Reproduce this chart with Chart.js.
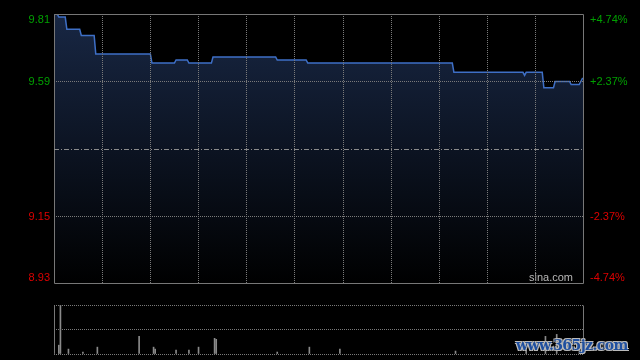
<!DOCTYPE html>
<html>
<head>
<meta charset="utf-8">
<script src="https://cdn.jsdelivr.net/npm/chart.js"></script>
<style>
  html, body { margin: 0; padding: 0; background: #000; }
  #wrap { position: relative; width: 640px; height: 360px; overflow: hidden; }
  #price-box { position: absolute; left: 0; top: 0; width: 640px; height: 290px; }
  #vol-box { position: absolute; left: 0; top: 290px; width: 640px; height: 70px; }
  #mark {
    position: absolute; left: 516px; top: 337px;
    font: bold 14px "DejaVu Serif", serif; color: #1f4f9f; letter-spacing: -0.6px;
    text-shadow: 1px 1px 0 #bbb, -1px -1px 0 #bbb, 1px -1px 0 #bbb, -1px 1px 0 #bbb;
  }
</style>
</head>
<body>
<div id="wrap">
  <div id="price-box"><canvas id="price-chart"></canvas></div>
  <div id="vol-box"><canvas id="vol-chart"></canvas></div>
  <div id="mark">www.365jz.com</div>
</div>
<script>
// one point per minute, 09:30-12:00 + 13:00-16:00 (331 points)
const prices = [
  9.81, 9.81, 9.81, 9.80, 9.80, 9.80, 9.80, 9.80,
  9.76, 9.76, 9.76, 9.76, 9.76, 9.76, 9.76, 9.76, 9.76,
  9.74, 9.74, 9.74, 9.74, 9.74, 9.74, 9.74, 9.74, 9.74,
  9.68, 9.68, 9.68, 9.68, 9.68, 9.68, 9.68, 9.68, 9.68, 9.68,
  9.68, 9.68, 9.68, 9.68, 9.68, 9.68, 9.68, 9.68, 9.68, 9.68,
  9.68, 9.68, 9.68, 9.68, 9.68, 9.68, 9.68, 9.68, 9.68, 9.68,
  9.68, 9.68, 9.68, 9.68, 9.68,
  9.65, 9.65, 9.65, 9.65, 9.65, 9.65, 9.65, 9.65, 9.65, 9.65,
  9.65, 9.65, 9.65, 9.65, 9.65,
  9.66, 9.66, 9.66, 9.66, 9.66, 9.66, 9.66, 9.66,
  9.65, 9.65, 9.65, 9.65, 9.65, 9.65, 9.65, 9.65, 9.65, 9.65,
  9.65, 9.65, 9.65, 9.65, 9.65,
  9.67, 9.67, 9.67, 9.67, 9.67, 9.67, 9.67, 9.67, 9.67, 9.67,
  9.67, 9.67, 9.67, 9.67, 9.67, 9.67, 9.67, 9.67, 9.67, 9.67,
  9.67, 9.67, 9.67, 9.67, 9.67, 9.67, 9.67, 9.67, 9.67, 9.67,
  9.67, 9.67, 9.67, 9.67, 9.67, 9.67, 9.67, 9.67, 9.67, 9.67,
  9.66, 9.66, 9.66, 9.66, 9.66, 9.66, 9.66, 9.66, 9.66, 9.66,
  9.66, 9.66, 9.66, 9.66, 9.66, 9.66, 9.66, 9.66, 9.66,
  9.65, 9.65, 9.65, 9.65, 9.65, 9.65, 9.65, 9.65, 9.65, 9.65,
  9.65, 9.65, 9.65, 9.65, 9.65, 9.65, 9.65, 9.65, 9.65, 9.65,
  9.65, 9.65, 9.65, 9.65, 9.65, 9.65, 9.65, 9.65, 9.65, 9.65,
  9.65, 9.65, 9.65, 9.65, 9.65, 9.65, 9.65, 9.65, 9.65, 9.65,
  9.65, 9.65, 9.65, 9.65, 9.65, 9.65, 9.65, 9.65, 9.65, 9.65,
  9.65, 9.65, 9.65, 9.65, 9.65, 9.65, 9.65, 9.65, 9.65, 9.65,
  9.65, 9.65, 9.65, 9.65, 9.65, 9.65, 9.65, 9.65, 9.65, 9.65,
  9.65, 9.65, 9.65, 9.65, 9.65, 9.65, 9.65, 9.65, 9.65, 9.65,
  9.65, 9.65, 9.65, 9.65, 9.65, 9.65, 9.65, 9.65, 9.65, 9.65,
  9.65,
  9.62, 9.62, 9.62, 9.62, 9.62, 9.62, 9.62, 9.62, 9.62, 9.62,
  9.62, 9.62, 9.62, 9.62, 9.62, 9.62, 9.62, 9.62, 9.62, 9.62,
  9.62, 9.62, 9.62, 9.62, 9.62, 9.62, 9.62, 9.62, 9.62, 9.62,
  9.62, 9.62, 9.62, 9.62, 9.62, 9.62, 9.62, 9.62, 9.62, 9.62,
  9.62, 9.62, 9.62, 9.62,
  9.61,
  9.62, 9.62, 9.62, 9.62, 9.62, 9.62, 9.62, 9.62, 9.62, 9.62,
  9.62,
  9.57, 9.57, 9.57, 9.57, 9.57, 9.57, 9.57,
  9.59, 9.59, 9.59, 9.59, 9.59, 9.59, 9.59, 9.59, 9.59, 9.59,
  9.58, 9.58, 9.58, 9.58, 9.58, 9.58,
  9.59,
  9.60, 9.60
];

const prevClose = 9.37;
const yTicks = [8.93, 9.15, 9.37, 9.59, 9.81];
const leftLabels = ["8.93", "9.15", "", "9.59", "9.81"];
const rightLabels = ["-4.74%", "-2.37%", "", "+2.37%", "+4.74%"];
const tickColors = ["#dd0000", "#dd0000", "#888888", "#00a000", "#00a000"];

// volume, minute index -> amount (relative units)
const volMinutes = [0, 3, 4, 9, 18, 27, 53, 62, 63, 76, 84, 90, 100, 101, 139, 159, 178, 250, 294, 306, 313];
const volValues = [8, 9, 50, 5, 2, 7, 18, 7, 5, 4, 4, 7, 16, 15, 2, 7, 5, 3, 4, 18, 20];

const minutes = 330;

const frame = {
  id: "frame",
  afterDatasetsDraw(chart, args, opts) {
    const a = chart.chartArea;
    const c = chart.ctx;
    const l = Math.round(a.left) + 0.5, r = Math.round(a.right) - 0.5;
    const t = Math.round(a.top) + 0.5, b = Math.round(a.bottom) - 0.5;
    c.save();
    c.strokeStyle = "#777";
    c.lineWidth = 1;
    c.beginPath();
    if (opts.full) {
      c.rect(l, t, r - l, b - t);
    } else {
      c.moveTo(l, t); c.lineTo(l, b);
      c.moveTo(r, t); c.lineTo(r, b);
    }
    c.stroke();
    if (opts.text) {
      c.fillStyle = "#b8b8b8";
      c.font = "11px 'Liberation Sans', Arial, sans-serif";
      c.textAlign = "right";
      c.textBaseline = "alphabetic";
      c.fillText(opts.text, a.right - 11, a.bottom - 3);
    }
    c.restore();
  }
};

const tickFont = { family: "'Liberation Sans', Arial, sans-serif", size: 11, lineHeight: "12px" };

function edgeLabel(list, index) {
  // push first / last label inside the plot box
  let s = list[index];
  if (index === yTicks.length - 1) return ["", s];
  if (index === 0) return [s, ""];
  return s;
}

function noPad(s) {
  s.paddingTop = 0;
  s.paddingBottom = 0;
  s.paddingLeft = 0;
  s.paddingRight = 0;
}

let priceConfig = {
  type: "line",
  data: {
    datasets: [
      {
        data: prices.map((p, i) => ({ x: i, y: p })),
        borderColor: "#3e6fc6",
        borderWidth: 1.5,
        pointRadius: 0,
        tension: 0,
        fill: "start",
        backgroundColor: function (context) {
          const area = context.chart.chartArea;
          if (!area) return "rgba(20,32,56,1)";
          let g = context.chart.ctx.createLinearGradient(0, area.top, 0, area.bottom);
          g.addColorStop(0, "rgba(24,39,68,1)");
          g.addColorStop(1, "rgba(0,0,0,1)");
          return g;
        }
      }
    ]
  },
  options: {
    responsive: true,
    maintainAspectRatio: false,
    animation: false,
    events: [],
    layout: { padding: { top: 14, bottom: 6, left: 0, right: 0 } },
    plugins: {
      legend: { display: false },
      tooltip: { enabled: false },
      frame: { full: true, text: "sina.com" }
    },
    scales: {
      x: {
        type: "linear",
        min: 0,
        max: minutes,
        ticks: { display: false, stepSize: 30 },
        grid: {
          z: 1,
          drawTicks: false,
          color: (ctx) => (ctx.tick && (ctx.tick.value === 0 || ctx.tick.value === minutes)) ? "rgba(0,0,0,0)" : "#7a7a7a"
        },
        border: { display: false, dash: [1, 1] },
        afterFit: (s) => { s.height = 0; noPad(s); }
      },
      y: {
        position: "left",
        min: 8.93,
        max: 9.81,
        afterBuildTicks: (s) => { s.ticks = yTicks.map((v) => ({ value: v })); },
        ticks: {
          autoSkip: false,
          padding: 4,
          font: tickFont,
          color: (ctx) => tickColors[ctx.index],
          callback: (v, i) => edgeLabel(leftLabels, i)
        },
        grid: {
          z: 1,
          drawTicks: false,
          color: (ctx) => {
            if (ctx.index === 0 || ctx.index === yTicks.length - 1) return "rgba(0,0,0,0)";
            return ctx.index === 2 ? "#8c8c8c" : "#7a7a7a";
          }
        },
        border: {
          display: false,
          dash: (ctx) => ctx.index === 2 ? [5, 2, 1, 2] : [1, 1]
        },
        afterFit: (s) => { s.width = 54; noPad(s); }
      },
      y2: {
        position: "right",
        min: 8.93,
        max: 9.81,
        afterBuildTicks: (s) => { s.ticks = yTicks.map((v) => ({ value: v })); },
        ticks: {
          autoSkip: false,
          padding: 6,
          font: tickFont,
          color: (ctx) => tickColors[ctx.index],
          callback: (v, i) => edgeLabel(rightLabels, i)
        },
        grid: { drawOnChartArea: false, drawTicks: false },
        border: { display: false },
        afterFit: (s) => { s.width = 56; noPad(s); }
      }
    }
  },
  plugins: [frame]
};

let volConfig = {
  type: "bar",
  data: {
    datasets: [
      {
        data: volMinutes.map((m, i) => ({ x: m, y: volValues[i] })),
        backgroundColor: "#8a8a8a",
        barThickness: 1,
        borderWidth: 0
      }
    ]
  },
  options: {
    responsive: true,
    maintainAspectRatio: false,
    animation: false,
    events: [],
    layout: { padding: { top: 15, bottom: 6, left: 54, right: 56 } },
    plugins: {
      legend: { display: false },
      tooltip: { enabled: false },
      frame: { full: false }
    },
    scales: {
      x: {
        type: "linear",
        offset: false,
        min: 0,
        max: minutes,
        display: false
      },
      y: {
        min: 0,
        max: 50,
        afterBuildTicks: (s) => { s.ticks = [{ value: 0 }, { value: 25 }, { value: 50 }]; },
        ticks: { display: false },
        grid: { z: 1, drawTicks: false, color: "#7a7a7a" },
        border: { display: false, dash: [1, 1] },
        afterFit: (s) => { s.width = 0; noPad(s); }
      }
    }
  },
  plugins: [frame]
};

new Chart(document.getElementById("price-chart").getContext("2d"), priceConfig);
new Chart(document.getElementById("vol-chart").getContext("2d"), volConfig);
</script>
</body>
</html>
